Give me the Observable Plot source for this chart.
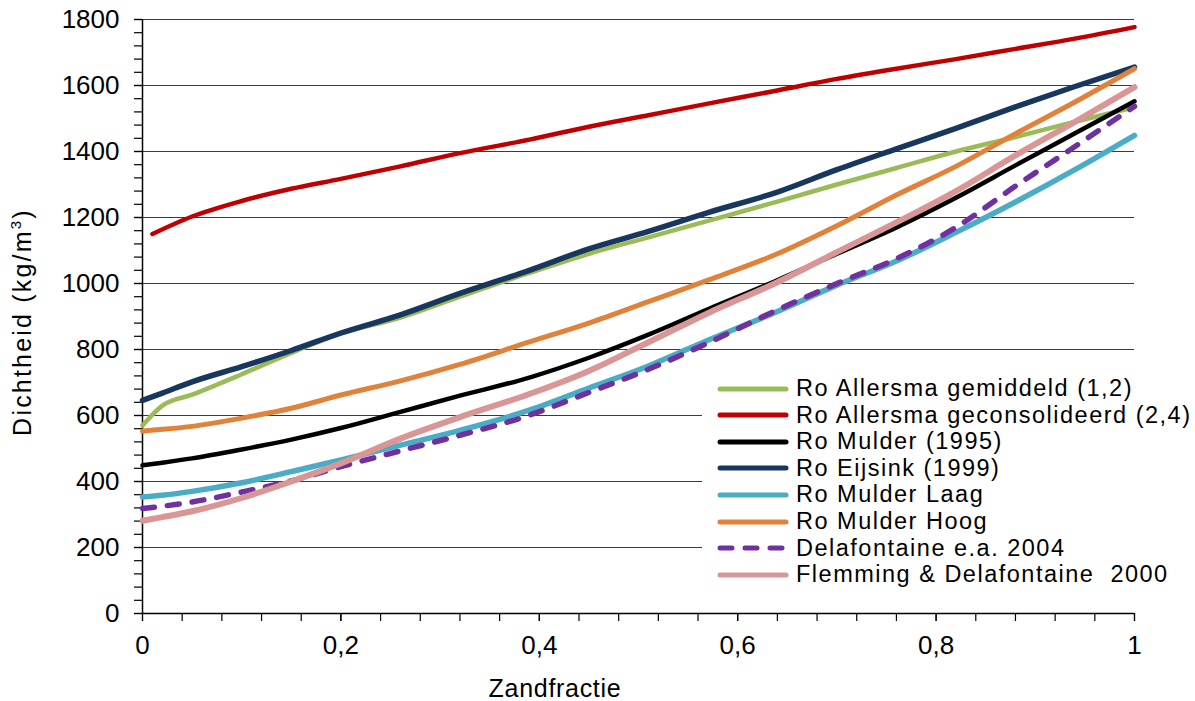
<!DOCTYPE html>
<html>
<head>
<meta charset="utf-8">
<script src="https://cdn.jsdelivr.net/npm/d3@7"></script>
<script src="https://cdn.jsdelivr.net/npm/@observablehq/plot@0.6"></script>
<style>
  html, body { margin: 0; padding: 0; background: #fff; }
  body { font-family: "Liberation Sans", Arial, sans-serif; }
  #wrap { position: relative; width: 1195px; height: 701px; overflow: hidden; }
  #wrap svg.plot text { letter-spacing: 0.3px; }
  #ytitle { position: absolute; left: 22px; top: 322px; transform: translate(-50%, -50%) rotate(-90deg);
            white-space: nowrap; font-size: 25px; letter-spacing: 2.2px; color: #000; }
  #ytitle sup { font-size: 15px; }
  #xtitle { position: absolute; left: 555px; top: 688px; transform: translate(-50%, -50%);
            white-space: nowrap; font-size: 25px; letter-spacing: 0.7px; color: #000; }
  #legend { position: absolute; left: 702px; top: 372px; width: 493px; height: 232px; background: #fff; }
  .row { position: absolute; left: 15px; height: 27px; display: flex; align-items: center; white-space: pre;
         font-size: 23.5px; letter-spacing: 1.5px; color: #000; }
  .row svg { width: 72px; height: 10px; margin-right: 7px; flex: none; }
</style>
</head>
<body>
<div id="wrap"></div>
<script>
// ---- data ----
const reeksen = [
  "Ro Allersma gemiddeld (1,2)",
  "Ro Allersma geconsolideerd (2,4)",
  "Ro Mulder (1995)",
  "Ro Eijsink (1999)",
  "Ro Mulder Laag",
  "Ro Mulder Hoog",
  "Delafontaine e.a. 2004",
  "Flemming & Delafontaine  2000"
];

const zandfractie     = [0, 0.02, 0.05, 0.1, 0.15, 0.2, 0.26, 0.32, 0.39, 0.45, 0.51, 0.57, 0.64, 0.70, 0.76, 0.82, 0.88, 0.94, 1.0];
const zandfractieRood = [0.01, 0.05, 0.1, 0.15, 0.2, 0.26, 0.32, 0.39, 0.45, 0.51, 0.57, 0.64, 0.70, 0.76, 0.82, 0.88, 0.94, 1.0];

const allersmaGemiddeld      = [570, 630, 663, 725, 790, 848, 897, 960, 1032, 1090, 1140, 1190, 1248, 1300, 1350, 1400, 1444, 1490, 1534];
const allersmaGeconsolideerd = [1150, 1203, 1250, 1287, 1317, 1355, 1395, 1436, 1475, 1510, 1545, 1585, 1620, 1651, 1680, 1711, 1742, 1777];
const mulder1995             = [449, 457, 470, 497, 527, 562, 611, 660, 715, 775, 845, 922, 1010, 1090, 1170, 1260, 1358, 1455, 1552];
const eijsink1999            = [646, 668, 702, 748, 797, 850, 905, 970, 1040, 1105, 1158, 1215, 1277, 1345, 1408, 1470, 1535, 1597, 1656];
const mulderLaag             = [353, 358, 370, 396, 430, 465, 510, 555, 616, 683, 750, 828, 915, 995, 1068, 1155, 1247, 1345, 1449];
const mulderHoog             = [553, 558, 567, 592, 622, 662, 705, 755, 823, 880, 945, 1010, 1090, 1175, 1268, 1355, 1454, 1550, 1651];
const delafontaine2004       = [318, 325, 338, 368, 402, 445, 493, 540, 601, 670, 740, 820, 920, 1000, 1075, 1170, 1295, 1415, 1537];
const flemming2000           = [281, 292, 310, 350, 400, 455, 530, 595, 665, 735, 822, 910, 1004, 1095, 1185, 1280, 1388, 1490, 1595];

const yTicks = [0, 200, 400, 600, 800, 1000, 1200, 1400, 1600, 1800];
const yMinorTicks = d3.range(0, 1801, 40);
const xTicks = [0, 0.2, 0.4, 0.6, 0.8, 1];
const xMinorTicks = d3.range(0, 26).map(i => i * 0.04);

// ---- styles ----
const stijl = [
  {color: "#9BBB59", width: 4.5},
  {color: "#C00000", width: 4.5},
  {color: "#000000", width: 4.5},
  {color: "#17375E", width: 5.5},
  {color: "#4BACC6", width: 5.5},
  {color: "#E0823A", width: 5},
  {color: "#7030A0", width: 5.5, dash: "12,13"},
  {color: "#D99694", width: 6}
];

const waarden = [allersmaGemiddeld, allersmaGeconsolideerd, mulder1995, eijsink1999, mulderLaag, mulderHoog, delafontaine2004, flemming2000];
const xs = [zandfractie, zandfractieRood, zandfractie, zandfractie, zandfractie, zandfractie, zandfractie, zandfractie];

const tabel = reeksen.map((naam, i) => waarden[i].map((v, j) => ({reeks: naam, x: xs[i][j], y: v})));

const lineMarks = tabel.map((rows, i) => Plot.line(rows, {
  x: "x", y: "y", curve: "monotone-x",
  stroke: stijl[i].color, strokeWidth: stijl[i].width,
  strokeDasharray: stijl[i].dash, strokeLinecap: "round", strokeLinejoin: "round"
}));

const chart = Plot.plot({
  width: 1195, height: 701,
  marginLeft: 142, marginRight: 61, marginTop: 19, marginBottom: 88,
  style: {fontFamily: "'Liberation Sans', Arial, sans-serif", fontSize: "26px", color: "#000", background: "#fff"},
  x: {domain: [0, 1]},
  y: {domain: [0, 1800]},
  marks: [
    Plot.ruleY(yTicks, {stroke: "#3a3a3a", strokeWidth: 1.2}),
    Plot.axisY({ticks: yMinorTicks, tickSize: 8, tickFormat: () => "", label: null, strokeWidth: 1.2}),
    Plot.axisY({ticks: yTicks, tickSize: 8, tickPadding: 15, tickFormat: d => String(d), label: null, strokeWidth: 1.2}),
    Plot.axisX({ticks: xMinorTicks, tickSize: 8, tickFormat: () => "", label: null, strokeWidth: 1.2}),
    Plot.axisX({ticks: xTicks, tickSize: 8, tickPadding: 14, tickFormat: d => String(d).replace(".", ","), label: null, strokeWidth: 1.2}),
    Plot.ruleX([0], {stroke: "#000", strokeWidth: 1.5}),
    Plot.ruleY([0], {stroke: "#000", strokeWidth: 1.5}),
    ...lineMarks
  ]
});

const wrap = document.getElementById("wrap");
wrap.appendChild(chart);

const yt = document.createElement("div");
yt.id = "ytitle";
yt.innerHTML = "Dichtheid (kg/m<sup>3</sup>)";
wrap.appendChild(yt);

const xt = document.createElement("div");
xt.id = "xtitle";
xt.textContent = "Zandfractie";
wrap.appendChild(xt);

const legend = document.createElement("div");
legend.id = "legend";
reeksen.forEach((naam, i) => {
  const row = document.createElement("div");
  row.className = "row";
  row.style.top = (3 + i * 26.6) + "px";
  const s = stijl[i];
  row.innerHTML = `<svg viewBox="0 0 72 10"><line x1="3" y1="5" x2="69" y2="5" stroke="${s.color}" stroke-width="5" stroke-linecap="round" ${s.dash ? `stroke-dasharray="${s.dash}"` : ""}/></svg>`;
  const span = document.createElement("span");
  span.textContent = naam;
  row.appendChild(span);
  legend.appendChild(row);
});
wrap.appendChild(legend);
</script>
</body>
</html>
